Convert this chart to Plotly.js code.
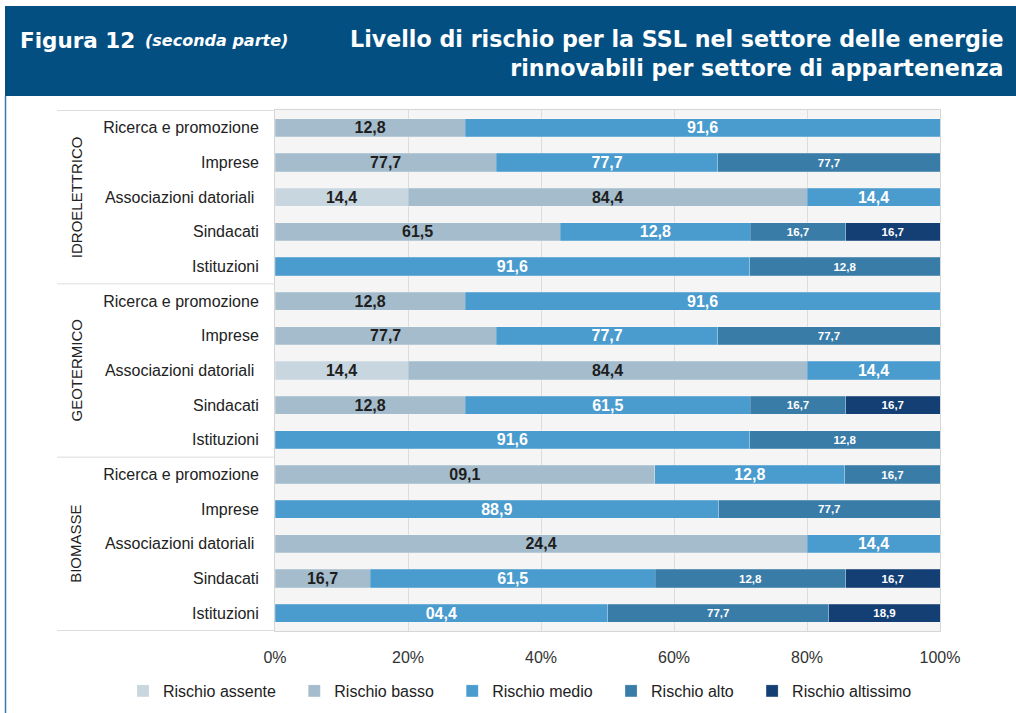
<!DOCTYPE html>
<html>
<head>
<meta charset="utf-8">
<script src="https://cdn.plot.ly/plotly-3.0.1.min.js"></script>
<style>html,body{margin:0;padding:0;background:#fff;}#chart{width:1016px;height:713px;}</style>
</head>
<body>
<div id="chart"></div>
<script>
// ---- DATA ----
const groups = ["IDROELETTRICO", "GEOTERMICO", "BIOMASSE"];
const subcategories = ["Ricerca e promozione", "Imprese", "Associazioni datoriali\u00a0", "Sindacati", "Istituzioni"];
const seriesNames = ["Rischio assente", "Rischio basso", "Rischio medio", "Rischio alto", "Rischio altissimo"];

// percentage widths of each segment (rows top to bottom: IDRO x5, GEO x5, BIO x5)
const assente   = [null, null, 20,   null, null,  null, null, 20,   null, null,  null, null, null, null, null];
const basso     = [28.6, 33.3, 60,   42.9, null,  28.6, 33.3, 60,   28.6, null,  57.1, null, 80,   14.3, null];
const medio     = [71.4, 33.3, 20,   28.6, 71.4,  71.4, 33.3, 20,   42.9, 71.4,  28.6, 66.7, 20,   42.9, 50];
const alto      = [null, 33.4, null, 14.3, 28.6,  null, 33.4, null, 14.3, 28.6,  14.3, 33.3, null, 28.6, 33.3];
const altissimo = [null, null, null, 14.2, null,  null, null, null, 14.2, null,  null, null, null, 14.2, 16.7];

// data labels as printed in the figure
const labAssente   = ["", "", "14,4", "", "",  "", "", "14,4", "", "",  "", "", "", "", ""];
const labBasso     = ["12,8", "77,7", "84,4", "61,5", "",  "12,8", "77,7", "84,4", "12,8", "",  "09,1", "", "24,4", "16,7", ""];
const labMedio     = ["91,6", "77,7", "14,4", "12,8", "91,6",  "91,6", "77,7", "14,4", "61,5", "91,6",  "12,8", "88,9", "14,4", "61,5", "04,4"];
const labAlto      = ["", "77,7", "", "16,7", "12,8",  "", "77,7", "", "16,7", "12,8",  "16,7", "77,7", "", "12,8", "77,7"];
const labAltissimo = ["", "", "", "16,7", "",  "", "", "", "16,7", "",  "", "", "", "16,7", "18,9"];

const xTicks = [0, 20, 40, 60, 80, 100];
const xTickLabels = ["0%", "20%", "40%", "60%", "80%", "100%"];

// ---- BUILD ----
const yKeys = [], yText = [];
groups.forEach(g => subcategories.forEach(s => { yKeys.push(g + " | " + s); yText.push(s); }));

const FONT = "Liberation Sans, Arial, Helvetica, sans-serif";
const HFONT = "DejaVu Sans, Verdana, sans-serif";
const colors = ["#c8d6e0", "#a5bccc", "#4a9bce", "#3a7ca8", "#143f75"];
const values = [assente, basso, medio, alto, altissimo];
const labels = [labAssente, labBasso, labMedio, labAlto, labAltissimo];
const textStyles = [
  {color: "#1e1e1e", size: 16},
  {color: "#1e1e1e", size: 16},
  {color: "#ffffff", size: 16},
  {color: "#ffffff", size: 11.5},
  {color: "#ffffff", size: 11.5}
];

const traces = seriesNames.map((name, i) => ({
  type: "bar",
  orientation: "h",
  name: name + "\u00a0\u00a0\u00a0",
  y: yKeys,
  x: values[i],
  text: labels[i],
  textposition: "inside",
  insidetextanchor: "middle",
  textangle: 0,
  constraintext: "none",
  textfont: {family: FONT, size: textStyles[i].size, color: textStyles[i].color, weight: "bold"},
  marker: {color: colors[i], line: {color: "rgba(255,255,255,0.35)", width: 0.6}},
  hoverinfo: "name+x"
}));

// plot-area pixel geometry
const L = 275, R = 940, T = 110, B = 631, W = 1016, H = 713;
const px = p => (p - L) / (R - L);
const py = p => (B - p) / (B - T);

const shapes = [];
// header band
shapes.push({type: "rect", xref: "paper", yref: "paper", x0: px(5), x1: px(1016), y0: py(96), y1: py(6),
  fillcolor: "#034f82", line: {width: 0}, layer: "below"});
// left border
shapes.push({type: "line", xref: "paper", yref: "paper", x0: px(5.5), x1: px(5.5), y0: py(96), y1: py(713),
  line: {color: "#3d78a8", width: 1.5}});
// group separators in label area
const n = subcategories.length;
for (let g = 0; g <= groups.length; g++) {
  shapes.push({type: "line", xref: "paper", yref: "y", x0: px(57), x1: 0,
    y0: g * n - 0.5, y1: g * n - 0.5, line: {color: "#dddddd", width: 1}});
}

const annotations = [];
groups.forEach((g, i) => {
  annotations.push({xref: "paper", yref: "y", x: px(76), y: i * n + (n - 1) / 2, text: g,
    textangle: -90, showarrow: false, font: {family: FONT, size: 15, color: "#222"}, xanchor: "center", yanchor: "middle"});
});
annotations.push({xref: "paper", yref: "paper", x: px(18), y: py(40), xanchor: "left", yanchor: "middle",
  text: "<b>Figura 12</b>", showarrow: false, font: {family: HFONT, size: 21.5, color: "#fff"}});
annotations.push({xref: "paper", yref: "paper", x: px(143), y: py(40), xanchor: "left", yanchor: "middle",
  text: "<b><i>(seconda parte)</i></b>", showarrow: false, font: {family: HFONT, size: 16, color: "#fff"}});
annotations.push({xref: "paper", yref: "paper", x: px(1006), y: py(54), xanchor: "right", yanchor: "middle", align: "right",
  text: "<b>Livello di rischio per la SSL nel settore delle energie<br>rinnovabili per settore di appartenenza</b>",
  showarrow: false, font: {family: HFONT, size: 22.2, color: "#fff"}});

const layout = {
  width: W, height: H,
  margin: {l: L, r: W - R, t: T, b: H - B, pad: 0, autoexpand: false},
  paper_bgcolor: "#ffffff",
  plot_bgcolor: "#f5f5f5",
  barmode: "stack",
  bargap: 0.48,
  font: {family: FONT, size: 16, color: "#222"},
  showlegend: true,
  legend: {orientation: "h", x: px(123), xanchor: "left", y: py(674), yanchor: "top",
    font: {family: FONT, size: 16, color: "#222"}, traceorder: "normal", bgcolor: "rgba(0,0,0,0)"},
  xaxis: {range: [0, 100], tickmode: "array", tickvals: xTicks, ticktext: xTickLabels, showgrid: true, gridcolor: "#dcdcdc",
    zeroline: false, showline: true, mirror: true, linecolor: "#d6d6d6", linewidth: 1,
    ticks: "", ticklabelstandoff: 12, tickfont: {family: FONT, size: 16, color: "#333"}, fixedrange: true},
  yaxis: {type: "category", categoryorder: "array", categoryarray: yKeys, tickmode: "array", tickvals: yKeys, ticktext: yText,
    autorange: "reversed", showgrid: false, showline: true, mirror: true, linecolor: "#d6d6d6",
    ticks: "", ticklabelstandoff: 12, tickfont: {family: FONT, size: 16, color: "#222"}, fixedrange: true},
  shapes: shapes,
  annotations: annotations
};

Plotly.newPlot("chart", traces, layout, {displayModeBar: false, staticPlot: true});
</script>
</body>
</html>
